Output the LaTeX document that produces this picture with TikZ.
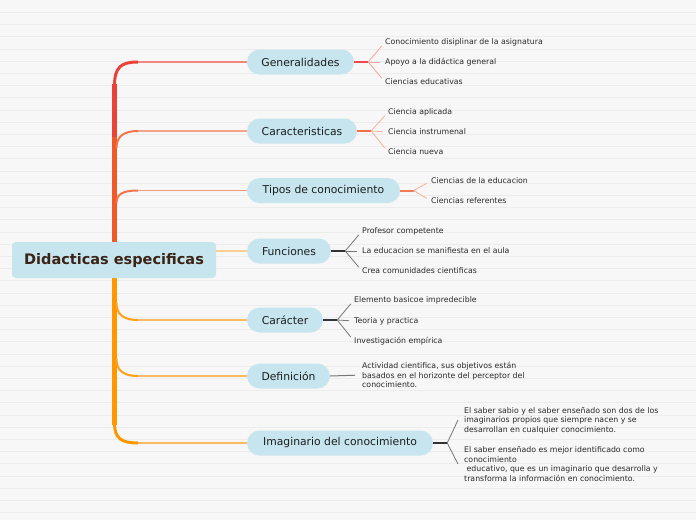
\documentclass[tikz,border=0pt]{standalone}
\usepackage{fontspec}
\setmainfont{DejaVu Sans}
\usetikzlibrary{calc}
\definecolor{bgcol}{HTML}{F7F7F7}
\definecolor{bglinecol}{HTML}{ECECEC}
\definecolor{nodefill}{HTML}{C6E5EF}
\definecolor{roottext}{HTML}{3B2316}
\definecolor{maintext}{HTML}{1E1E1E}
\definecolor{leaftext}{HTML}{2A2A2A}
\definecolor{trunkred}{HTML}{EA4236}
\definecolor{trunkor}{HTML}{F05A28}
\definecolor{trunko}{HTML}{FF9800}
\definecolor{genline}{HTML}{F4877C}
\definecolor{genfork}{HTML}{EE4A48}
\definecolor{genfan}{HTML}{F7A3A0}
\definecolor{carcurve}{HTML}{F2754F}
\definecolor{carline}{HTML}{F5A48A}
\definecolor{carfork}{HTML}{F0704A}
\definecolor{carfan}{HTML}{F8B39C}
\definecolor{tipline}{HTML}{F39A7E}
\definecolor{tipfork}{HTML}{F07A55}
\definecolor{tipfan}{HTML}{F7B096}
\definecolor{funline}{HTML}{FDCF92}
\definecolor{ocurve}{HTML}{FF9F1A}
\definecolor{oline}{HTML}{FCBB62}
\definecolor{darkfork}{HTML}{333333}
\definecolor{darkfan}{HTML}{777777}
\begin{document}
\begin{tikzpicture}[x=1pt,y=-1pt,
  bgline/.style={draw=bglinecol, line width=0.8pt},
  rootbox/.style={fill=nodefill, rounded corners=4pt, minimum width=204pt, minimum height=36pt, inner sep=0pt, font=\fontsize{14.5}{17}\selectfont\bfseries, text=roottext},
  branchbox/.style={fill=nodefill, rounded corners=12.5pt, minimum height=25pt, inner sep=0pt, font=\fontsize{10.8}{13}\selectfont, text=maintext},
  leaf/.style={anchor=west, inner sep=0pt, font=\fontsize{7.8}{9.8}\selectfont, text=leaftext, align=left},
  stub/.style={line width=2pt},
  fan/.style={line width=0.8pt, shorten >=5pt},
  bline/.style={line width=1.8pt},
  bcurve/.style={line width=2pt}
]
% background
\fill[bgcol] (0,0) rectangle (696,520);
\useasboundingbox (0,0) rectangle (696,520);
\foreach \i in {0,...,41} \draw[bgline] (0,12.3+12.2*\i) -- (696,12.3+12.2*\i);

% trunk
\draw[trunkred, line width=4.7pt] (114.5,84) -- (114.5,138);
\draw[trunkor, line width=4.7pt] (114.5,137) -- (114.5,250);
\draw[trunko, line width=4.7pt] (114.5,270) -- (114.5,425);
\draw[trunkred, line width=3pt] (114.5,86) .. controls (114.5,67) and (121,62) .. (138,62);
\draw[trunko, line width=3pt] (114.5,423) .. controls (114.5,438) and (121,443) .. (138,443);

% root
\node[rootbox] (root) at (114,260) {Didacticas especificas};

% branch nodes
\node[branchbox, minimum width=107pt] (gen) at (300.5,62) {Generalidades};
\node[branchbox, minimum width=110pt] (car) at (302,131) {Caracteristicas};
\node[branchbox, minimum width=153pt] (tip) at (323.5,190.5) {Tipos de conocimiento};
\node[branchbox, minimum width=84pt] (fun) at (289,251) {Funciones};
\node[branchbox, minimum width=76pt] (chr) at (285,320) {Carácter};
\node[branchbox, minimum width=83pt] (def) at (288.5,376) {Definición};
\node[branchbox, minimum width=186pt] (img) at (340,443) {Imaginario del conocimiento};

% branch connectors
\coordinate (genj) at (138,62);
\coordinate (carj) at (138,131);
\coordinate (tipj) at (138,190.5);
\coordinate (chrj) at (138,320);
\coordinate (defj) at (138,376);
\coordinate (imgj) at (138,443);
\draw[genline, bline] (genj) -- (gen.west);
\draw[carcurve, bcurve] (116.5,148) .. controls (116.5,137) and (123,131) .. (carj);
\draw[carline, bline] (carj) -- (car.west);
\draw[carcurve, bcurve] (116.5,203) .. controls (116.5,194) and (123,190.5) .. (tipj);
\draw[tipline, bline] (tipj) -- (tip.west);
\draw[funline, bline] (fun.west -| root.east) -- (fun.west);
\draw[ocurve, bcurve] (116.5,303) .. controls (116.5,314) and (123,320) .. (chrj);
\draw[oline, bline] (chrj) -- (chr.west);
\draw[ocurve, bcurve] (116.5,359) .. controls (116.5,370) and (123,376) .. (defj);
\draw[oline, bline] (defj) -- (def.west);
\draw[oline, bline] (imgj) -- (img.west);

% leaves: Generalidades
\node[leaf] (g1) at (385,42) {Conocimiento disiplinar de la asignatura};
\node[leaf] (g2) at (385,62) {Apoyo a la didáctica general};
\node[leaf] (g3) at (385,82) {Ciencias educativas};
\coordinate (genf) at ($(gen.east)+(14,0)$);
\draw[genfork, stub] (gen.east) -- (genf);
\foreach \c in {g1,g2,g3} \draw[genfan, fan] (genf) -- (\c.west);

% Caracteristicas
\node[leaf] (c1) at (388,112) {Ciencia aplicada};
\node[leaf] (c2) at (388,132) {Ciencia instrumenal};
\node[leaf] (c3) at (388,152) {Ciencia nueva};
\coordinate (carf) at ($(car.east)+(14,0)$);
\draw[carfork, stub] (car.east) -- (carf);
\foreach \c in {c1,c2,c3} \draw[carfan, fan] (carf) -- (\c.west);

% Tipos
\node[leaf] (t1) at (431,181) {Ciencias de la educacion};
\node[leaf] (t2) at (431,201) {Ciencias referentes};
\coordinate (tipf) at ($(tip.east)+(13.5,0)$);
\draw[tipfork, stub] (tip.east) -- (tipf);
\foreach \c in {t1,t2} \draw[tipfan, fan] (tipf) -- (\c.west);

% Funciones
\node[leaf] (f1) at (362,231) {Profesor competente};
\node[leaf] (f2) at (362,251) {La educacion se manifiesta en el aula};
\node[leaf] (f3) at (362,271) {Crea comunidades cientificas};
\coordinate (funf) at ($(fun.east)+(14,0)$);
\draw[darkfork, stub] (fun.east) -- (funf);
\foreach \c in {f1,f2,f3} \draw[darkfan, fan] (funf) -- (\c.west);

% Caracter
\node[leaf] (k1) at (354,300) {Elemento basicoe impredecible};
\node[leaf] (k2) at (354,321) {Teoria y practica};
\node[leaf] (k3) at (354,341) {Investigación empírica};
\coordinate (chrf) at ($(chr.east)+(14,0)$);
\draw[darkfork, stub] (chr.east) -- (chrf);
\foreach \c in {k1,k2,k3} \draw[darkfan, fan] (chrf) -- (\c.west);

% Definicion
\node[leaf] (d1) at (362,375) {Actividad cientifica, sus objetivos están\\basados en el horizonte del perceptor del\\conocimiento.};
\draw[darkfan, line width=1pt, shorten >=7pt] (def.east) -- (d1.west);

% Imaginario
\node[leaf] (i1) at (464,444.5) {El saber sabio y el saber enseñado son dos de los\\imaginarios propios que siempre nacen y se\\desarrollan en cualquier conocimiento.\\[9.8pt]El saber enseñado es mejor identificado como\\conocimiento\\\ educativo, que es un imaginario que desarrolla y\\transforma la información en conocimiento.};
\coordinate (imgf) at ($(img.east)+(14,0)$);
\coordinate (imgu) at (458,420);
\coordinate (imgd) at (458,464);
\draw[darkfork, stub] (img.east) -- (imgf);
\draw[darkfan, line width=0.8pt] (imgf) -- (imgu);
\draw[darkfan, line width=0.8pt] (imgf) -- (imgd);
\end{tikzpicture}
\end{document}
